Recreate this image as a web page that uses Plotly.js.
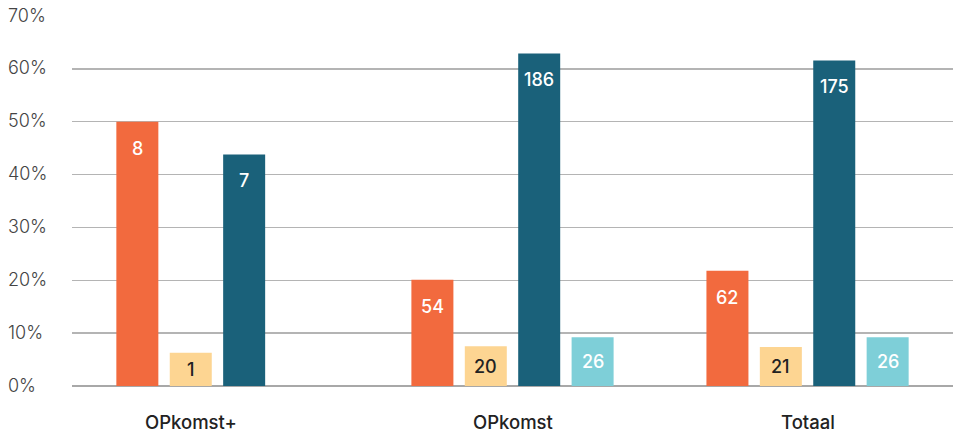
<!DOCTYPE html>
<html>
<head>
<meta charset="utf-8">
<script src="https://cdn.plot.ly/plotly-3.0.1.min.js"></script>
<style>
  html, body { margin: 0; padding: 0; background: #fff; }
  #chart { width: 953px; height: 433px; }
</style>
</head>
<body>
<div id="chart"></div>
<script>
// Groups along the x axis
const categories = ['OPkomst+', 'OPkomst', 'Totaal'];

// Share of respondents per group (%), bar heights
const shareA = [50.0, 20.1, 21.8];
const shareB = [6.3, 7.5, 7.4];
const shareC = [43.8, 62.9, 61.6];
const shareD = [null, 9.2, 9.2];

// Counts printed inside each bar
const countA = [8, 54, 62];
const countB = [1, 20, 21];
const countC = [7, 186, 175];
const countD = [null, 26, 26];

// Y axis ticks
const yTicks = [0, 10, 20, 30, 40, 50, 60, 70];
const yTickText = ['0%', '10%', '20%', '30%', '40%', '50%', '60%', '70%'];

const colors = ['#F26A3E', '#FDD592', '#1A617A', '#7ECFD8'];
const labelColors = ['#ffffff', '#222222', '#ffffff', '#ffffff'];
const shares = [shareA, shareB, shareC, shareD];
const counts = [countA, countB, countC, countD];

const bargap = 0.276;
const bargroupgap = 0.2135;
const nSeries = shares.length;
const slot = (1 - bargap) / nSeries;

const traces = shares.map((vals, i) => ({
  type: 'bar',
  x: categories,
  y: vals,
  marker: { color: colors[i], line: { width: 0 } },
  hoverinfo: 'skip',
  showlegend: false
}));

const annotations = [];

// Count labels inside the bars
shares.forEach((vals, i) => {
  vals.forEach((v, c) => {
    if (v == null) return;
    const xPos = c + (i - (nSeries - 1) / 2) * slot;
    annotations.push({
      x: xPos, y: Math.max(v - 5, v / 2), xref: 'x', yref: 'y',
      text: String(counts[i][c]), showarrow: false, borderpad: 0,
      xanchor: 'center', yanchor: 'middle',
      font: { family: 'Inter', size: 18, weight: 500, color: labelColors[i] }
    });
  });
});

// Category labels, centred under the bars present in each group
categories.forEach((cat, c) => {
  const present = shares.map((vals, i) => vals[c] == null ? null : i).filter(i => i !== null);
  const mid = (present[0] + present[present.length - 1]) / 2;
  const xPos = c + (mid - (nSeries - 1) / 2) * slot;
  annotations.push({
    x: xPos, y: 0, xref: 'x', yref: 'y',
    text: cat, showarrow: false, borderpad: 0,
    xanchor: 'center', yanchor: 'middle', yshift: -36,
    font: { family: 'Inter', size: 18.5, weight: 500, color: '#222222' }
  });
});

// Left-aligned y tick labels
yTicks.forEach((t, k) => {
  annotations.push({
    x: -65 / 881, y: t, xref: 'paper', yref: 'y',
    text: yTickText[k], showarrow: false, borderpad: 0,
    xanchor: 'left', yanchor: 'middle', yshift: 1,
    font: { family: 'Inter', size: 18, weight: 300, color: '#444444' }
  });
});

const layout = {
  width: 953,
  height: 433,
  margin: { l: 72, r: 0, t: 15.5, b: 47 },
  paper_bgcolor: '#ffffff',
  plot_bgcolor: '#ffffff',
  barmode: 'group',
  bargap: bargap,
  bargroupgap: bargroupgap,
  xaxis: {
    type: 'category',
    range: [-0.493, 2.493],
    showticklabels: false,
    showgrid: false,
    zeroline: false,
    showline: false,
    ticks: ''
  },
  yaxis: {
    range: [0, 70],
    tickvals: yTicks,
    showticklabels: false,
    showgrid: true,
    gridcolor: '#b4b4b4',
    gridwidth: 1.3,
    zeroline: true,
    zerolinecolor: '#a8a8a8',
    zerolinewidth: 2,
    showline: false,
    ticks: ''
  },
  annotations: annotations,
  showlegend: false
};

Plotly.newPlot('chart', traces, layout, { displayModeBar: false, staticPlot: true });
</script>
</body>
</html>
